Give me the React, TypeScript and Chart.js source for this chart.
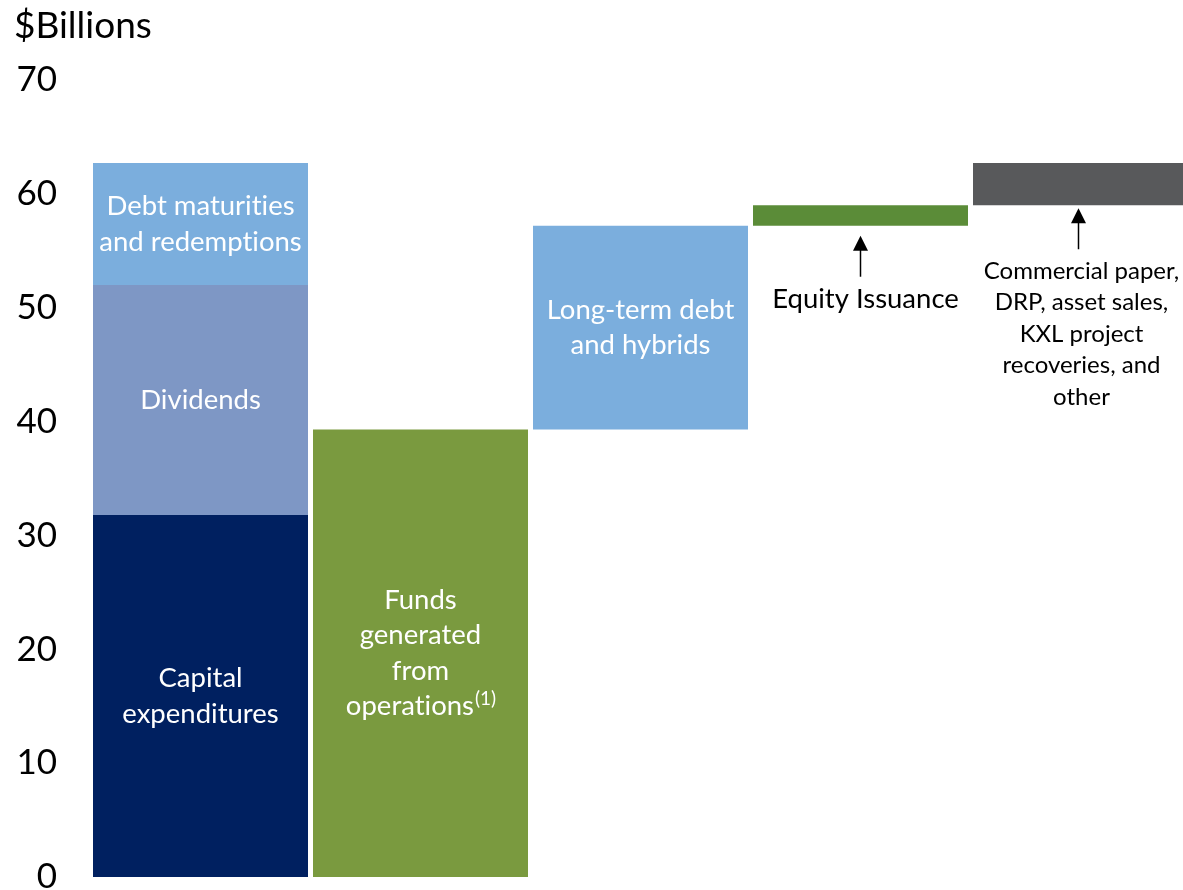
import { useEffect, useRef } from "react";
import { Chart, registerables } from "chart.js";

Chart.register(...registerables);

// ---- Data ----
const yTicks = [0, 10, 20, 30, 40, 50, 60, 70];
const usesItems = ["Capital expenditures", "Dividends", "Debt maturities and redemptions"];
const usesValues = [31.8, 20.2, 10.7];
const sourceItems = [
  "Funds generated from operations",
  "Long-term debt and hybrids",
  "Equity Issuance",
  "Commercial paper, DRP, asset sales, KXL project recoveries, and other",
];
const sourceValues = [39.3, 17.9, 1.8, 3.7];
const usesText = [["Capital", "expenditures"], ["Dividends"], ["Debt maturities", "and redemptions"]];
const sourceText = [
  ["Funds", "generated", "from", "operations^(1)"],
  ["Long-term debt", "and hybrids"],
  ["Equity Issuance"],
  ["Commercial paper,", "DRP, asset sales,", "KXL project", "recoveries, and", "other"],
];
const axisTitle = "$Billions";

// ---- Styles ----
const usesColors = ["#002060", "#7E97C5", "#7BAEDD"];
const sourceColors = ["#7A9A3F", "#7BAEDD", "#5B8C38", "#58595B"];
const FONT = "Lato, 'Open Sans', sans-serif";
const INSIDE_SIZE = 27.5;
const usesPlacement = [{ mode: "inside" }, { mode: "inside" }, { mode: "inside" }];
const sourcePlacement = [
  { mode: "inside" },
  { mode: "inside" },
  { mode: "below", tip: 10, tail: 51, text: 73, lh: 32, size: 27.5, arrowDx: 0, textDx: 5 },
  { mode: "below", tip: 3, tail: 44, text: 66, lh: 31.5, size: 24, arrowDx: -2, textDx: 1 },
];

function buildDatasets() {
  const ds: any[] = [];
  let acc = 0;
  usesValues.forEach((v, i) => {
    ds.push({
      label: usesItems[i],
      data: [{ x: 0, y: [acc, acc + v] }],
      backgroundColor: usesColors[i],
      lines: usesText[i],
      place: usesPlacement[i],
    });
    acc += v;
  });
  let s = 0;
  sourceValues.forEach((v, i) => {
    ds.push({
      label: sourceItems[i],
      data: [{ x: i + 1, y: [s, s + v] }],
      backgroundColor: sourceColors[i],
      lines: sourceText[i],
      place: sourcePlacement[i],
    });
    s += v;
  });
  return ds;
}

// break the "ti" ligature of Lato so text reads like the original
const noLig = (t: string) => t.replace(/ti/g, "t\u200Ci").replace(/fi/g, "f\u200Ci");

function drawLine(ctx: CanvasRenderingContext2D, text: string, cx: number, cy: number, size: number) {
  const parts = text.split("^").map(noLig);
  ctx.font = `${size}px ${FONT}`;
  const w1 = ctx.measureText(parts[0]).width;
  if (parts.length === 1) {
    ctx.textAlign = "center";
    ctx.fillText(parts[0], cx, cy);
    return;
  }
  const supSize = Math.round(size * 0.68);
  ctx.font = `${supSize}px ${FONT}`;
  const w2 = ctx.measureText(parts[1]).width;
  const start = cx - (w1 + w2) / 2;
  ctx.textAlign = "left";
  ctx.font = `${size}px ${FONT}`;
  ctx.fillText(parts[0], start, cy);
  ctx.font = `${supSize}px ${FONT}`;
  ctx.fillText(parts[1], start + w1 + 1, cy - size * 0.28);
}

const labelPlugin = {
  id: "barLabels",
  afterDatasetsDraw(chart: any) {
    const ctx: CanvasRenderingContext2D = chart.ctx;
    ctx.save();
    ctx.textBaseline = "middle";
    chart.data.datasets.forEach((ds: any, i: number) => {
      const el = chart.getDatasetMeta(i).data[0];
      if (!el) return;
      const { x, y, base } = el.getProps(["x", "y", "base"], true);
      const lines: string[] = ds.lines;
      const p = ds.place;
      if (p.mode === "inside") {
        const lh = 35.5;
        const cy = (y + base) / 2;
        ctx.fillStyle = "#ffffff";
        lines.forEach((t, k) => {
          drawLine(ctx, t, x, cy + (k - (lines.length - 1) / 2) * lh, INSIDE_SIZE);
        });
      } else {
        const bottom = Math.max(y, base);
        const arrowX = x + p.arrowDx;
        ctx.strokeStyle = "#000";
        ctx.fillStyle = "#000";
        ctx.lineWidth = 1.5;
        ctx.beginPath();
        ctx.moveTo(arrowX, bottom + p.tip + 12);
        ctx.lineTo(arrowX, bottom + p.tail);
        ctx.stroke();
        ctx.beginPath();
        ctx.moveTo(arrowX, bottom + p.tip);
        ctx.lineTo(arrowX - 7.5, bottom + p.tip + 15);
        ctx.lineTo(arrowX + 7.5, bottom + p.tip + 15);
        ctx.closePath();
        ctx.fill();
        lines.forEach((t, k) => {
          drawLine(ctx, t, x + p.textDx, bottom + p.text + k * p.lh, p.size);
        });
      }
    });
    ctx.fillStyle = "#000";
    ctx.textAlign = "left";
    ctx.textBaseline = "alphabetic";
    ctx.font = `37px ${FONT}`;
    ctx.fillText(axisTitle, 14, 38);
    ctx.restore();
  },
};

export default function App() {
  const ref = useRef<HTMLCanvasElement>(null);
  useEffect(() => {
    if (!ref.current) return;
    const chart = new Chart(ref.current, {
      type: "bar",
      data: { datasets: buildDatasets() as any },
      options: {
        animation: false,
        responsive: false,
        maintainAspectRatio: false,
        grouped: false,
        categoryPercentage: 1,
        barPercentage: 215 / 220,
        layout: { padding: { top: 80, bottom: 13, left: 0, right: 0 } },
        plugins: { legend: { display: false }, tooltip: { enabled: false } },
        scales: {
          x: {
            type: "linear",
            display: false,
            offset: false,
            min: (90 - 200.5) / 220,
            max: (1183 - 200.5) / 220,
          },
          y: {
            min: yTicks[0],
            max: yTicks[yTicks.length - 1],
            afterBuildTicks: (scale: any) => {
              scale.ticks = yTicks.map((v) => ({ value: v }));
            },
            afterFit: (scale: any) => {
              scale.width = 90;
              scale.paddingTop = 0;
              scale.paddingBottom = 0;
            },
            grid: { display: false, drawTicks: false, tickLength: 0 },
            border: { display: false },
            ticks: {
              padding: 33,
              color: "#000",
              font: { family: FONT, size: 35 },
            },
          },
        },
      } as any,
      plugins: [labelPlugin],
    });
    return () => chart.destroy();
  }, []);
  return (
    <div style={{ position: "fixed", left: 0, top: 0, width: 1183, height: 890, background: "#fff" }}>
      <canvas ref={ref} width={1183} height={890} style={{ width: 1183, height: 890 }} />
    </div>
  );
}
